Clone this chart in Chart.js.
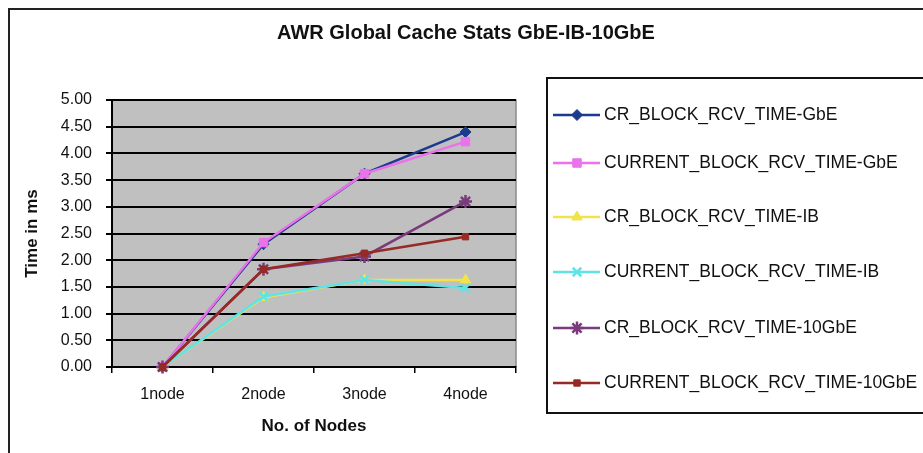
<!DOCTYPE html>
<html>
<head>
<meta charset="utf-8">
<script src="https://cdn.jsdelivr.net/npm/chart.js"></script>
<style>
  html, body { margin: 0; padding: 0; background: #fff; }
  #awr_chart { display: block; }
</style>
</head>
<body>
<canvas id="awr_chart" width="923" height="453"></canvas>
<script>
// data
const nodes = ['1node', '2node', '3node', '4node'];
const crGbE = [0, 2.30, 3.62, 4.40];
const curGbE = [0, 2.33, 3.62, 4.22];
const crIB = [0, 1.30, 1.63, 1.63];
const curIB = [0, 1.32, 1.63, 1.48];
const cr10GbE = [0, 1.83, 2.07, 3.10];
const cur10GbE = [0, 1.83, 2.13, 2.44];
const seriesNames = [
    'CR_BLOCK_RCV_TIME-GbE',
    'CURRENT_BLOCK_RCV_TIME-GbE',
    'CR_BLOCK_RCV_TIME-IB',
    'CURRENT_BLOCK_RCV_TIME-IB',
    'CR_BLOCK_RCV_TIME-10GbE',
    'CURRENT_BLOCK_RCV_TIME-10GbE'
];
const yTicks = [0, 0.5, 1, 1.5, 2, 2.5, 3, 3.5, 4, 4.5, 5];

const chartTitle = 'AWR Global Cache Stats GbE-IB-10GbE';
const FONT = '"Liberation Sans", Arial, sans-serif';

const looks = [
    {color: '#1c3a8e', style: 'rectRot', r: 5.5},
    {color: '#ea72ea', style: 'rect', r: 6},
    {color: '#f3e34a', style: 'triangle', r: 6},
    {color: '#5fe3e6', style: 'crossRot', r: 6},
    {color: '#7a3a7c', style: 'star', r: 6.5},
    {color: '#962a24', style: 'rect', r: 4.5}
];

const allValues = [crGbE, curGbE, crIB, curIB, cr10GbE, cur10GbE];

const datasets = allValues.map((vals, i) => ({
    label: seriesNames[i],
    data: vals,
    borderColor: looks[i].color,
    backgroundColor: looks[i].color,
    borderWidth: 2.5,
    pointStyle: looks[i].style,
    pointRadius: looks[i].r,
    pointBorderWidth: looks[i].style === 'crossRot' || looks[i].style === 'star' ? 2.5 : 1,
    tension: 0,
    clip: false,
    order: 10 - i   // later series drawn on top, like excel
}));

// white page, grey plot area, frames, title
const backdrop = {
    id: 'backdrop',
    beforeDraw(chart) {
        const ctx = chart.ctx;
        const a = chart.chartArea;
        ctx.save();
        ctx.fillStyle = '#ffffff';
        ctx.fillRect(0, 0, chart.width, chart.height);
        ctx.fillStyle = '#c0c0c0';
        ctx.fillRect(a.left, a.top, a.right - a.left, a.bottom - a.top);
        ctx.strokeStyle = '#8a8a8a';
        ctx.lineWidth = 1.5;
        ctx.beginPath();
        ctx.moveTo(a.left, a.top);
        ctx.lineTo(a.right, a.top);
        ctx.lineTo(a.right, a.bottom);
        ctx.stroke();
        // outer frame
        ctx.strokeStyle = '#222';
        ctx.lineWidth = 2;
        ctx.strokeRect(9, 9, 940, 470);
        // title
        ctx.fillStyle = '#111';
        ctx.font = 'bold 20px ' + FONT;
        ctx.textAlign = 'center';
        ctx.textBaseline = 'middle';
        ctx.fillText(chartTitle, 466, 33);
        ctx.restore();
    }
};

// excel style legend box on the right
const sideLegend = {
    id: 'sideLegend',
    afterDraw(chart) {
        const ctx = chart.ctx;
        ctx.save();
        ctx.strokeStyle = '#111';
        ctx.lineWidth = 2;
        ctx.strokeRect(547, 78, 400, 335);
        const rows = [115, 163, 217, 272, 328, 383];
        chart.data.datasets.forEach((ds, i) => {
            const y = rows[i];
            ctx.strokeStyle = ds.borderColor;
            ctx.fillStyle = ds.backgroundColor;
            ctx.lineWidth = 2.5;
            ctx.beginPath();
            ctx.moveTo(553, y);
            ctx.lineTo(600, y);
            ctx.stroke();
            if (Chart.helpers && Chart.helpers.drawPoint) {
                ctx.lineWidth = ds.pointBorderWidth;
                Chart.helpers.drawPoint(ctx, {
                    pointStyle: ds.pointStyle,
                    radius: ds.pointRadius,
                    rotation: 0,
                    borderWidth: ds.pointBorderWidth
                }, 577, y);
            }
            ctx.fillStyle = '#111';
            ctx.font = '17.5px ' + FONT;
            ctx.textAlign = 'left';
            ctx.textBaseline = 'middle';
            ctx.fillText(ds.label, 604, y);
        });
        ctx.restore();
    }
};

const ctx = document.getElementById('awr_chart').getContext('2d');
new Chart(ctx, {
    type: 'line',
    data: {
        labels: nodes,
        datasets: datasets
    },
    options: {
        responsive: false,
        animation: false,
        maintainAspectRatio: false,
        layout: {
            padding: {left: 0, top: 100, right: 407, bottom: 0}
        },
        scales: {
            x: {
                offset: true,
                afterFit: (scale) => { scale.height = 86; },
                grid: {
                    offset: true,
                    drawOnChartArea: false,
                    drawTicks: true,
                    tickLength: 6,
                    color: '#000',
                    lineWidth: 1.5
                },
                border: {display: true, color: '#000', width: 2},
                ticks: {
                    color: '#111',
                    padding: 12,
                    font: {family: FONT, size: 16}
                },
                title: {
                    display: true,
                    text: 'No. of Nodes',
                    color: '#111',
                    padding: {top: 16, bottom: 16},
                    font: {family: FONT, size: 17, weight: 'bold'}
                }
            },
            y: {
                min: 0,
                max: 5,
                afterFit: (scale) => { scale.width = 112; },
                afterBuildTicks: (scale) => { scale.ticks = yTicks.map(v => ({value: v})); },
                grid: {
                    color: '#000',
                    lineWidth: 2,
                    drawTicks: true,
                    tickLength: 6
                },
                border: {display: true, color: '#000', width: 2},
                ticks: {
                    color: '#111',
                    padding: 14,
                    font: {family: FONT, size: 16},
                    callback: (v) => Number(v).toFixed(2)
                },
                title: {
                    display: true,
                    text: 'Time in ms',
                    color: '#111',
                    padding: {top: 22, bottom: 0},
                    font: {family: FONT, size: 17, weight: 'bold'}
                }
            }
        },
        plugins: {
            legend: {display: false},
            title: {display: false},
            tooltip: {enabled: false}
        }
    },
    plugins: [backdrop, sideLegend]
});
</script>
</body>
</html>
